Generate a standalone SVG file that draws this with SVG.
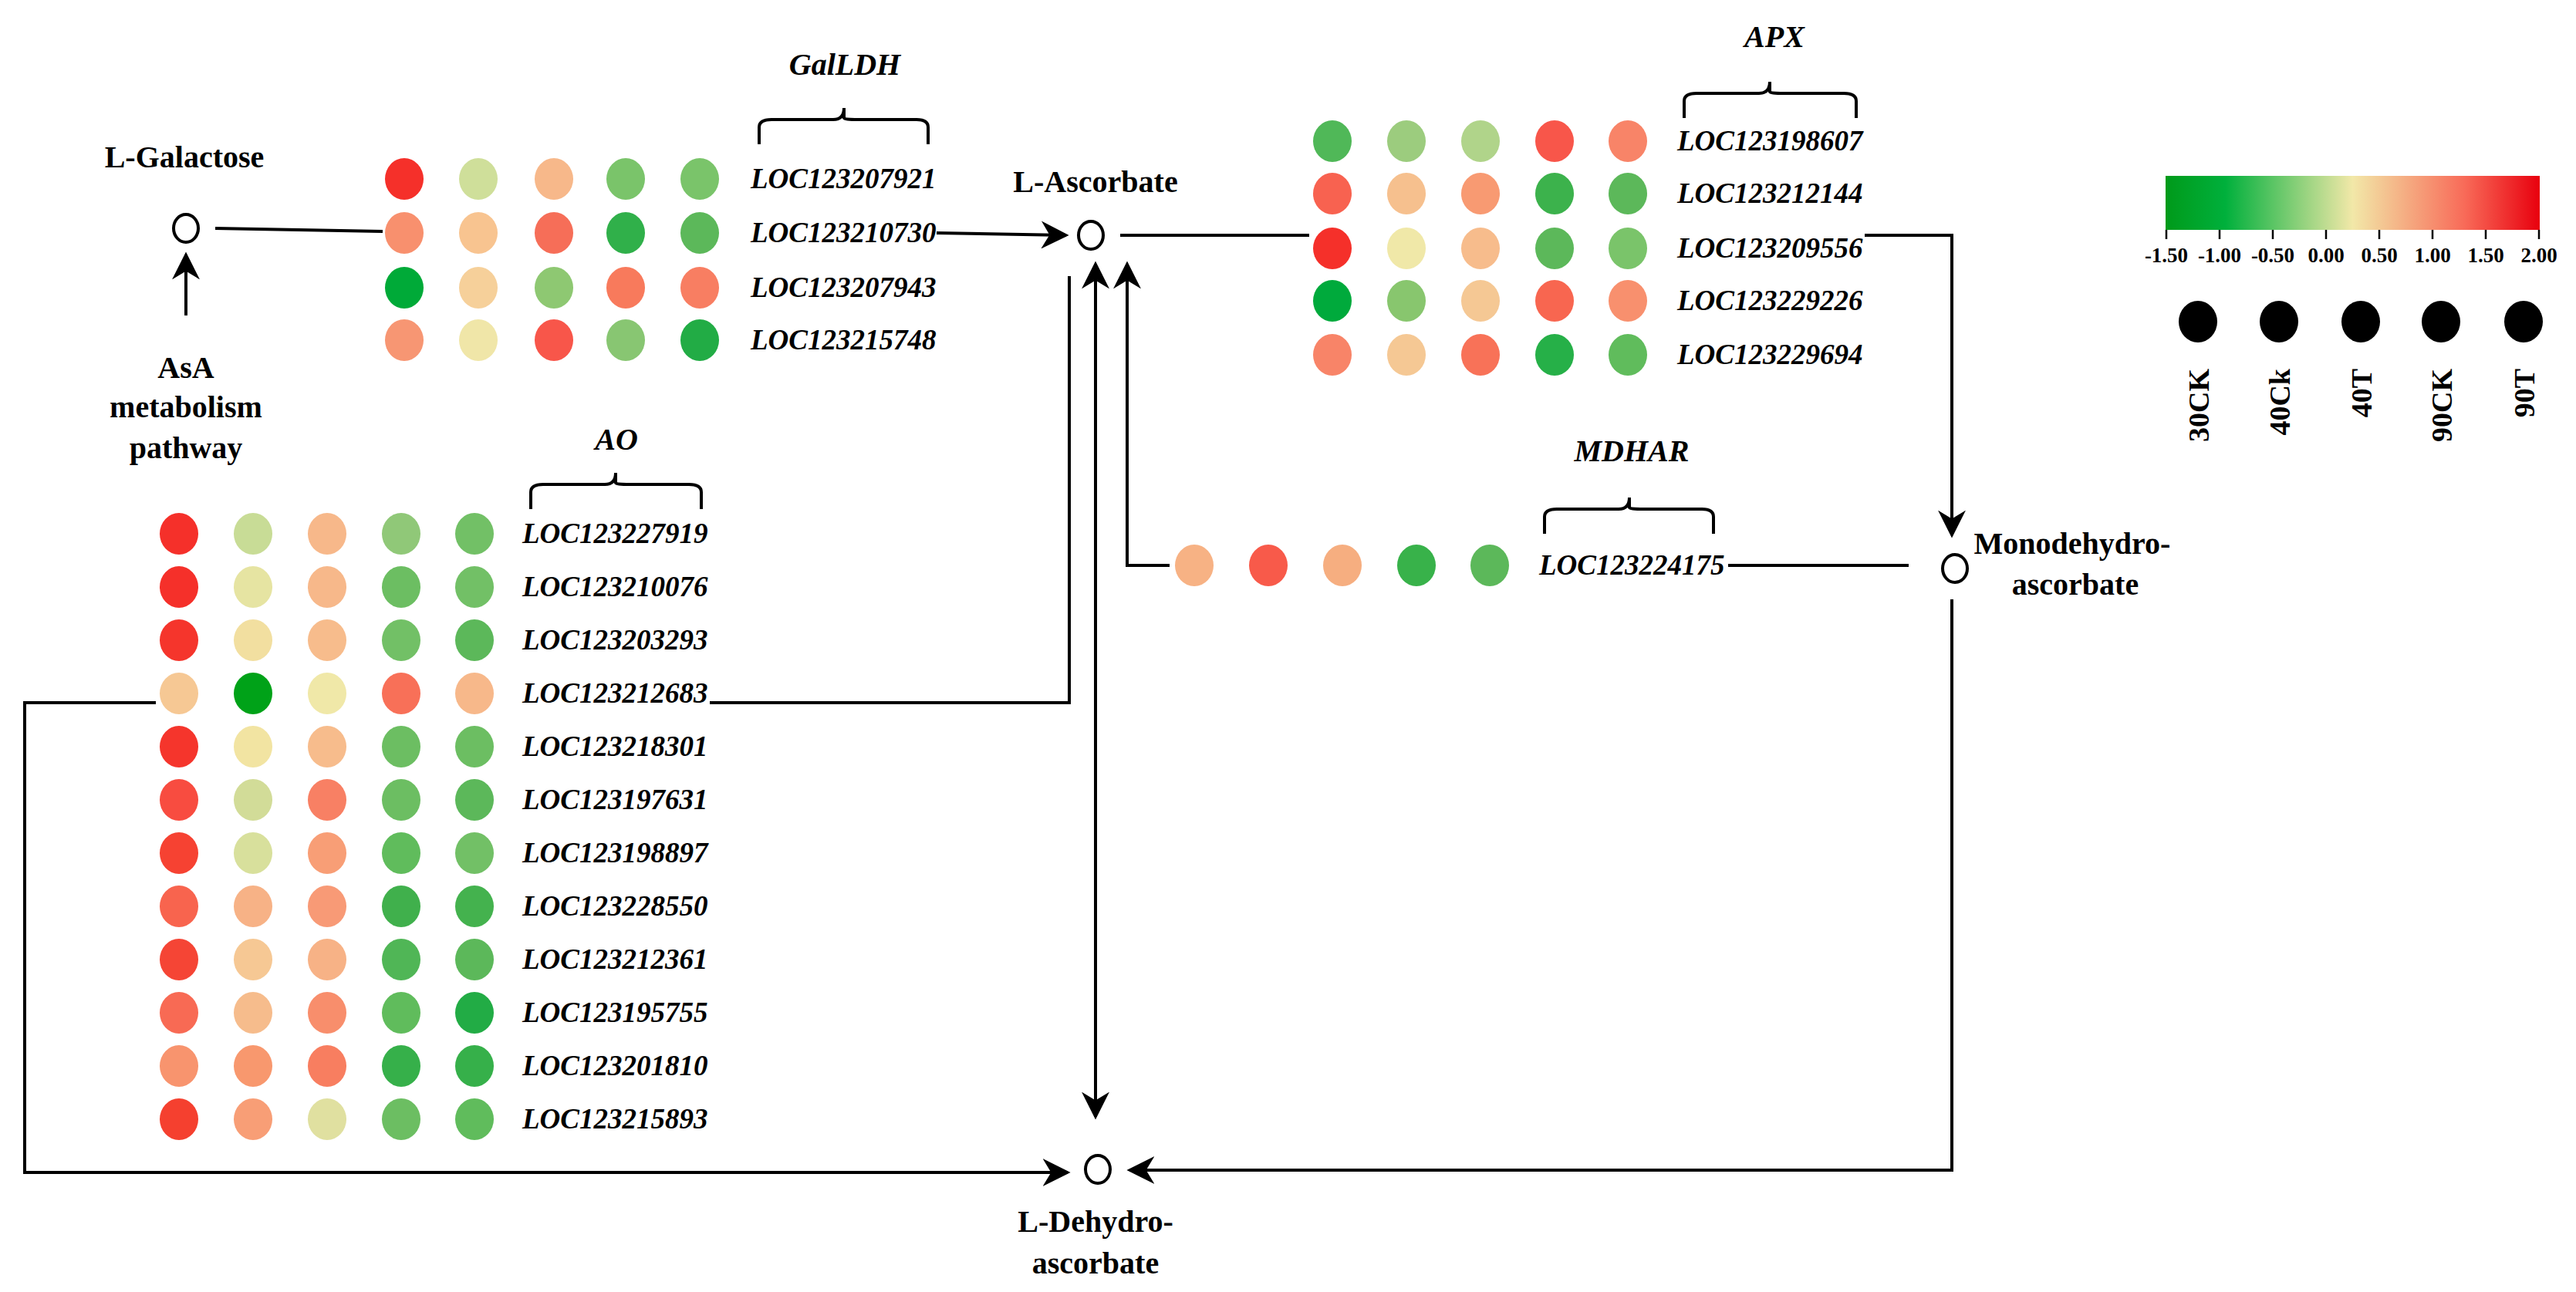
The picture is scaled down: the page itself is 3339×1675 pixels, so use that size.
<svg xmlns="http://www.w3.org/2000/svg" width="3339" height="1675" viewBox="0 0 3339 1675">
<style>
text{font-family:"Liberation Serif","Times New Roman",serif;font-weight:bold;fill:#000}
.loc{font-style:italic;font-size:37px}
.gene{font-style:italic;font-size:40px;text-anchor:middle}
.met{font-size:40px;text-anchor:middle}
.leg{font-size:27px;text-anchor:middle}
.line{fill:none;stroke:#000;stroke-width:4}
.node{fill:#fff;stroke:#000;stroke-width:4}
.br{fill:none;stroke:#000;stroke-width:4}
</style>
<defs>
<marker id="a" viewBox="0 0 10 10" refX="9" refY="5" markerWidth="9" markerHeight="9" orient="auto-start-reverse"><path d="M0,0 L10,5 L0,10 L3,5 z" fill="#000"/></marker>
<linearGradient id="grad" x1="0" x2="1" y1="0" y2="0">
<stop offset="0" stop-color="#009a1a"/><stop offset="0.16" stop-color="#00b03c"/><stop offset="0.5" stop-color="#f2e8a8"/><stop offset="0.8" stop-color="#f86a58"/><stop offset="1" stop-color="#e8000e"/>
</linearGradient>
</defs>

<g id="connectors">
<line class="line" x1="241" y1="409" x2="241" y2="330" marker-end="url(#a)"/>
<line class="line" x1="279" y1="296" x2="496" y2="300"/>
<line class="line" x1="1214" y1="302" x2="1382" y2="305" marker-end="url(#a)"/>
<line class="line" x1="1452" y1="305" x2="1697" y2="305"/>
<polyline class="line" points="2417,305 2530,305 2530,694" marker-end="url(#a)"/>
<polyline class="line" points="2530,777 2530,1517 1464,1517" marker-end="url(#a)"/>
<line class="line" x1="2240" y1="733" x2="2474" y2="733"/>
<polyline class="line" points="1516,733 1461,733 1461,342" marker-end="url(#a)"/>
<line class="line" x1="1420" y1="342" x2="1420" y2="1448" marker-start="url(#a)" marker-end="url(#a)"/>
<polyline class="line" points="920,911 1386,911 1386,358"/>
<polyline class="line" points="202,911 32,911 32,1520 1384,1520" marker-end="url(#a)"/>
</g>

<g id="L-Galactose">
<text class="met" x="239" y="217">L-Galactose</text>
<ellipse class="node" cx="241" cy="296" rx="16" ry="18"/>
</g>
<g id="AsA">
<text class="met" x="241" y="490">AsA</text>
<text class="met" x="241" y="541">metabolism</text>
<text class="met" x="241" y="594">pathway</text>
</g>
<g id="L-Ascorbate">
<text class="met" x="1420" y="249">L-Ascorbate</text>
<ellipse class="node" cx="1414" cy="305" rx="16" ry="18"/>
</g>
<g id="Monodehydroascorbate">
<ellipse class="node" cx="2534" cy="737" rx="16" ry="18"/>
<text class="met" x="2686" y="718">Monodehydro-</text>
<text class="met" x="2690" y="771">ascorbate</text>
</g>
<g id="L-Dehydroascorbate">
<ellipse class="node" cx="1423" cy="1516" rx="16" ry="18"/>
<text class="met" x="1420" y="1597">L-Dehydro-</text>
<text class="met" x="1420" y="1651">ascorbate</text>
</g>

<g id="GalLDH">
<text class="gene" x="1095" y="97">GalLDH</text>
<path class="br" d="M984,187 V165 Q984,155 1000,155 H1080 Q1094,155 1094,140 V153 Q1094,155 1108,155 H1188 Q1203,155 1203,165 V187"/>
<g>
<ellipse cx="524" cy="232" rx="25" ry="27" fill="#f5302a"/><ellipse cx="620" cy="232" rx="25" ry="27" fill="#cfdf9a"/><ellipse cx="718" cy="232" rx="25" ry="27" fill="#f7b88a"/><ellipse cx="811" cy="232" rx="25" ry="27" fill="#7ac46a"/><ellipse cx="907" cy="232" rx="25" ry="27" fill="#7ac46a"/>
<ellipse cx="524" cy="302" rx="25" ry="27" fill="#f8906e"/><ellipse cx="620" cy="302" rx="25" ry="27" fill="#f8c490"/><ellipse cx="718" cy="302" rx="25" ry="27" fill="#f66e58"/><ellipse cx="811" cy="302" rx="25" ry="27" fill="#30b04a"/><ellipse cx="907" cy="302" rx="25" ry="27" fill="#5cb85a"/>
<ellipse cx="524" cy="373" rx="25" ry="27" fill="#00aa38"/><ellipse cx="620" cy="373" rx="25" ry="27" fill="#f6d09a"/><ellipse cx="718" cy="373" rx="25" ry="27" fill="#8ec872"/><ellipse cx="811" cy="373" rx="25" ry="27" fill="#f87a5c"/><ellipse cx="907" cy="373" rx="25" ry="27" fill="#f87e62"/>
<ellipse cx="524" cy="441" rx="25" ry="27" fill="#f79673"/><ellipse cx="620" cy="441" rx="25" ry="27" fill="#f0e6a8"/><ellipse cx="718" cy="441" rx="25" ry="27" fill="#f8564a"/><ellipse cx="811" cy="441" rx="25" ry="27" fill="#88c672"/><ellipse cx="907" cy="441" rx="25" ry="27" fill="#22ac45"/>
</g>
<text class="loc" x="973" y="244">LOC123207921</text>
<text class="loc" x="973" y="314">LOC123210730</text>
<text class="loc" x="973" y="385">LOC123207943</text>
<text class="loc" x="973" y="453">LOC123215748</text>
</g>

<g id="APX">
<text class="gene" x="2300" y="61">APX</text>
<path class="br" d="M2183,153 V131 Q2183,121 2199,121 H2280 Q2294,121 2294,106 V119 Q2294,121 2308,121 H2390 Q2406,121 2406,131 V153"/>
<g>
<ellipse cx="1727" cy="183" rx="25" ry="27" fill="#50b858"/><ellipse cx="1823" cy="183" rx="25" ry="27" fill="#9ccc7e"/><ellipse cx="1919" cy="183" rx="25" ry="27" fill="#b0d48a"/><ellipse cx="2015" cy="183" rx="25" ry="27" fill="#f8564a"/><ellipse cx="2110" cy="183" rx="25" ry="27" fill="#f88468"/>
<ellipse cx="1727" cy="251" rx="25" ry="27" fill="#f86250"/><ellipse cx="1823" cy="251" rx="25" ry="27" fill="#f6c08e"/><ellipse cx="1919" cy="251" rx="25" ry="27" fill="#f89a72"/><ellipse cx="2015" cy="251" rx="25" ry="27" fill="#3cb24c"/><ellipse cx="2110" cy="251" rx="25" ry="27" fill="#5cb85a"/>
<ellipse cx="1727" cy="322" rx="25" ry="27" fill="#f5302a"/><ellipse cx="1823" cy="322" rx="25" ry="27" fill="#f0e8a8"/><ellipse cx="1919" cy="322" rx="25" ry="27" fill="#f7bc8c"/><ellipse cx="2015" cy="322" rx="25" ry="27" fill="#5cb85a"/><ellipse cx="2110" cy="322" rx="25" ry="27" fill="#7ac46a"/>
<ellipse cx="1727" cy="390" rx="25" ry="27" fill="#00aa3c"/><ellipse cx="1823" cy="390" rx="25" ry="27" fill="#88c66e"/><ellipse cx="1919" cy="390" rx="25" ry="27" fill="#f5c894"/><ellipse cx="2015" cy="390" rx="25" ry="27" fill="#f86650"/><ellipse cx="2110" cy="390" rx="25" ry="27" fill="#f8906e"/>
<ellipse cx="1727" cy="460" rx="25" ry="27" fill="#f88468"/><ellipse cx="1823" cy="460" rx="25" ry="27" fill="#f5c894"/><ellipse cx="1919" cy="460" rx="25" ry="27" fill="#f87258"/><ellipse cx="2015" cy="460" rx="25" ry="27" fill="#26b048"/><ellipse cx="2110" cy="460" rx="25" ry="27" fill="#60bc5c"/>
</g>
<text class="loc" x="2174" y="195">LOC123198607</text>
<text class="loc" x="2174" y="263">LOC123212144</text>
<text class="loc" x="2174" y="334">LOC123209556</text>
<text class="loc" x="2174" y="402">LOC123229226</text>
<text class="loc" x="2174" y="472">LOC123229694</text>
</g>

<g id="MDHAR">
<text class="gene" x="2115" y="598">MDHAR</text>
<path class="br" d="M2002,692 V670 Q2002,660 2018,660 H2098 Q2112,660 2112,645 V658 Q2112,660 2126,660 H2206 Q2221,660 2221,670 V692"/>
<ellipse cx="1548" cy="733" rx="25" ry="27" fill="#f7b284"/><ellipse cx="1644" cy="733" rx="25" ry="27" fill="#f85a4a"/><ellipse cx="1740" cy="733" rx="25" ry="27" fill="#f6ae80"/><ellipse cx="1836" cy="733" rx="25" ry="27" fill="#38b24a"/><ellipse cx="1931" cy="733" rx="25" ry="27" fill="#5cb85a"/>
<text class="loc" x="1995" y="745">LOC123224175</text>
</g>

<g id="AO">
<text class="gene" x="799" y="583">AO</text>
<path class="br" d="M688,660 V638 Q688,628 704,628 H784 Q798,628 798,613 V626 Q798,628 812,628 H893 Q909,628 909,638 V660"/>
<g>
<ellipse cx="232" cy="692" rx="25" ry="27" fill="#f5302a"/><ellipse cx="328" cy="692" rx="25" ry="27" fill="#c8dc96"/><ellipse cx="424" cy="692" rx="25" ry="27" fill="#f7b88a"/><ellipse cx="520" cy="692" rx="25" ry="27" fill="#90c878"/><ellipse cx="615" cy="692" rx="25" ry="27" fill="#72c066"/>
<ellipse cx="232" cy="761" rx="25" ry="27" fill="#f5302a"/><ellipse cx="328" cy="761" rx="25" ry="27" fill="#e6e4a2"/><ellipse cx="424" cy="761" rx="25" ry="27" fill="#f7b88a"/><ellipse cx="520" cy="761" rx="25" ry="27" fill="#6cbe62"/><ellipse cx="615" cy="761" rx="25" ry="27" fill="#72c066"/>
<ellipse cx="232" cy="830" rx="25" ry="27" fill="#f5352c"/><ellipse cx="328" cy="830" rx="25" ry="27" fill="#f2dfa0"/><ellipse cx="424" cy="830" rx="25" ry="27" fill="#f7bc8c"/><ellipse cx="520" cy="830" rx="25" ry="27" fill="#72c066"/><ellipse cx="615" cy="830" rx="25" ry="27" fill="#5cb85a"/>
<ellipse cx="232" cy="899" rx="25" ry="27" fill="#f6c894"/><ellipse cx="328" cy="899" rx="25" ry="27" fill="#00a218"/><ellipse cx="424" cy="899" rx="25" ry="27" fill="#f0e8a8"/><ellipse cx="520" cy="899" rx="25" ry="27" fill="#f87058"/><ellipse cx="615" cy="899" rx="25" ry="27" fill="#f7b88a"/>
<ellipse cx="232" cy="968" rx="25" ry="27" fill="#f5352c"/><ellipse cx="328" cy="968" rx="25" ry="27" fill="#f2e4a2"/><ellipse cx="424" cy="968" rx="25" ry="27" fill="#f7bc8c"/><ellipse cx="520" cy="968" rx="25" ry="27" fill="#6cbe62"/><ellipse cx="615" cy="968" rx="25" ry="27" fill="#6cbe62"/>
<ellipse cx="232" cy="1037" rx="25" ry="27" fill="#f84c40"/><ellipse cx="328" cy="1037" rx="25" ry="27" fill="#d2dc98"/><ellipse cx="424" cy="1037" rx="25" ry="27" fill="#f88064"/><ellipse cx="520" cy="1037" rx="25" ry="27" fill="#6cbe62"/><ellipse cx="615" cy="1037" rx="25" ry="27" fill="#5cb85a"/>
<ellipse cx="232" cy="1106" rx="25" ry="27" fill="#f64232"/><ellipse cx="328" cy="1106" rx="25" ry="27" fill="#d8e09c"/><ellipse cx="424" cy="1106" rx="25" ry="27" fill="#f89e76"/><ellipse cx="520" cy="1106" rx="25" ry="27" fill="#60bc5c"/><ellipse cx="615" cy="1106" rx="25" ry="27" fill="#72c066"/>
<ellipse cx="232" cy="1175" rx="25" ry="27" fill="#f8644e"/><ellipse cx="328" cy="1175" rx="25" ry="27" fill="#f7b286"/><ellipse cx="424" cy="1175" rx="25" ry="27" fill="#f89a76"/><ellipse cx="520" cy="1175" rx="25" ry="27" fill="#40b04c"/><ellipse cx="615" cy="1175" rx="25" ry="27" fill="#44b24e"/>
<ellipse cx="232" cy="1244" rx="25" ry="27" fill="#f54535"/><ellipse cx="328" cy="1244" rx="25" ry="27" fill="#f6c894"/><ellipse cx="424" cy="1244" rx="25" ry="27" fill="#f7b286"/><ellipse cx="520" cy="1244" rx="25" ry="27" fill="#50b656"/><ellipse cx="615" cy="1244" rx="25" ry="27" fill="#5cb85a"/>
<ellipse cx="232" cy="1313" rx="25" ry="27" fill="#f86a54"/><ellipse cx="328" cy="1313" rx="25" ry="27" fill="#f6bc8c"/><ellipse cx="424" cy="1313" rx="25" ry="27" fill="#f88e6c"/><ellipse cx="520" cy="1313" rx="25" ry="27" fill="#60bc5c"/><ellipse cx="615" cy="1313" rx="25" ry="27" fill="#22ac45"/>
<ellipse cx="232" cy="1382" rx="25" ry="27" fill="#f8946e"/><ellipse cx="328" cy="1382" rx="25" ry="27" fill="#f8986e"/><ellipse cx="424" cy="1382" rx="25" ry="27" fill="#f87e60"/><ellipse cx="520" cy="1382" rx="25" ry="27" fill="#36b04a"/><ellipse cx="615" cy="1382" rx="25" ry="27" fill="#36b04a"/>
<ellipse cx="232" cy="1451" rx="25" ry="27" fill="#f5402f"/><ellipse cx="328" cy="1451" rx="25" ry="27" fill="#f89e76"/><ellipse cx="424" cy="1451" rx="25" ry="27" fill="#e0e0a0"/><ellipse cx="520" cy="1451" rx="25" ry="27" fill="#6cbe62"/><ellipse cx="615" cy="1451" rx="25" ry="27" fill="#60bc5c"/>
</g>
<text class="loc" x="677" y="704">LOC123227919</text>
<text class="loc" x="677" y="773">LOC123210076</text>
<text class="loc" x="677" y="842">LOC123203293</text>
<text class="loc" x="677" y="911">LOC123212683</text>
<text class="loc" x="677" y="980">LOC123218301</text>
<text class="loc" x="677" y="1049">LOC123197631</text>
<text class="loc" x="677" y="1118">LOC123198897</text>
<text class="loc" x="677" y="1187">LOC123228550</text>
<text class="loc" x="677" y="1256">LOC123212361</text>
<text class="loc" x="677" y="1325">LOC123195755</text>
<text class="loc" x="677" y="1394">LOC123201810</text>
<text class="loc" x="677" y="1463">LOC123215893</text>
</g>

<g id="legend">
<rect x="2807" y="228" width="485" height="70" fill="url(#grad)"/>
<g stroke="#000" stroke-width="2.5">
<line x1="2808" y1="298" x2="2808" y2="310"/><line x1="2877" y1="298" x2="2877" y2="310"/><line x1="2946" y1="298" x2="2946" y2="310"/><line x1="3015" y1="298" x2="3015" y2="310"/><line x1="3084" y1="298" x2="3084" y2="310"/><line x1="3153" y1="298" x2="3153" y2="310"/><line x1="3222" y1="298" x2="3222" y2="310"/><line x1="3291" y1="298" x2="3291" y2="310"/>
</g>
<text class="leg" x="2808" y="340">-1.50</text><text class="leg" x="2877" y="340">-1.00</text><text class="leg" x="2946" y="340">-0.50</text><text class="leg" x="3015" y="340">0.00</text><text class="leg" x="3084" y="340">0.50</text><text class="leg" x="3153" y="340">1.00</text><text class="leg" x="3222" y="340">1.50</text><text class="leg" x="3291" y="340">2.00</text>
<ellipse cx="2849" cy="417" rx="25" ry="27"/><ellipse cx="2954" cy="417" rx="25" ry="27"/><ellipse cx="3060" cy="417" rx="25" ry="27"/><ellipse cx="3164" cy="417" rx="25" ry="27"/><ellipse cx="3271" cy="417" rx="25" ry="27"/>
<g>
<text transform="translate(2863,478) rotate(-90)" text-anchor="end" font-size="38">30CK</text>
<text transform="translate(2968,478) rotate(-90)" text-anchor="end" font-size="38">40Ck</text>
<text transform="translate(3074,478) rotate(-90)" text-anchor="end" font-size="38">40T</text>
<text transform="translate(3178,478) rotate(-90)" text-anchor="end" font-size="38">90CK</text>
<text transform="translate(3285,478) rotate(-90)" text-anchor="end" font-size="38">90T</text>
</g>
</g>
</svg>
